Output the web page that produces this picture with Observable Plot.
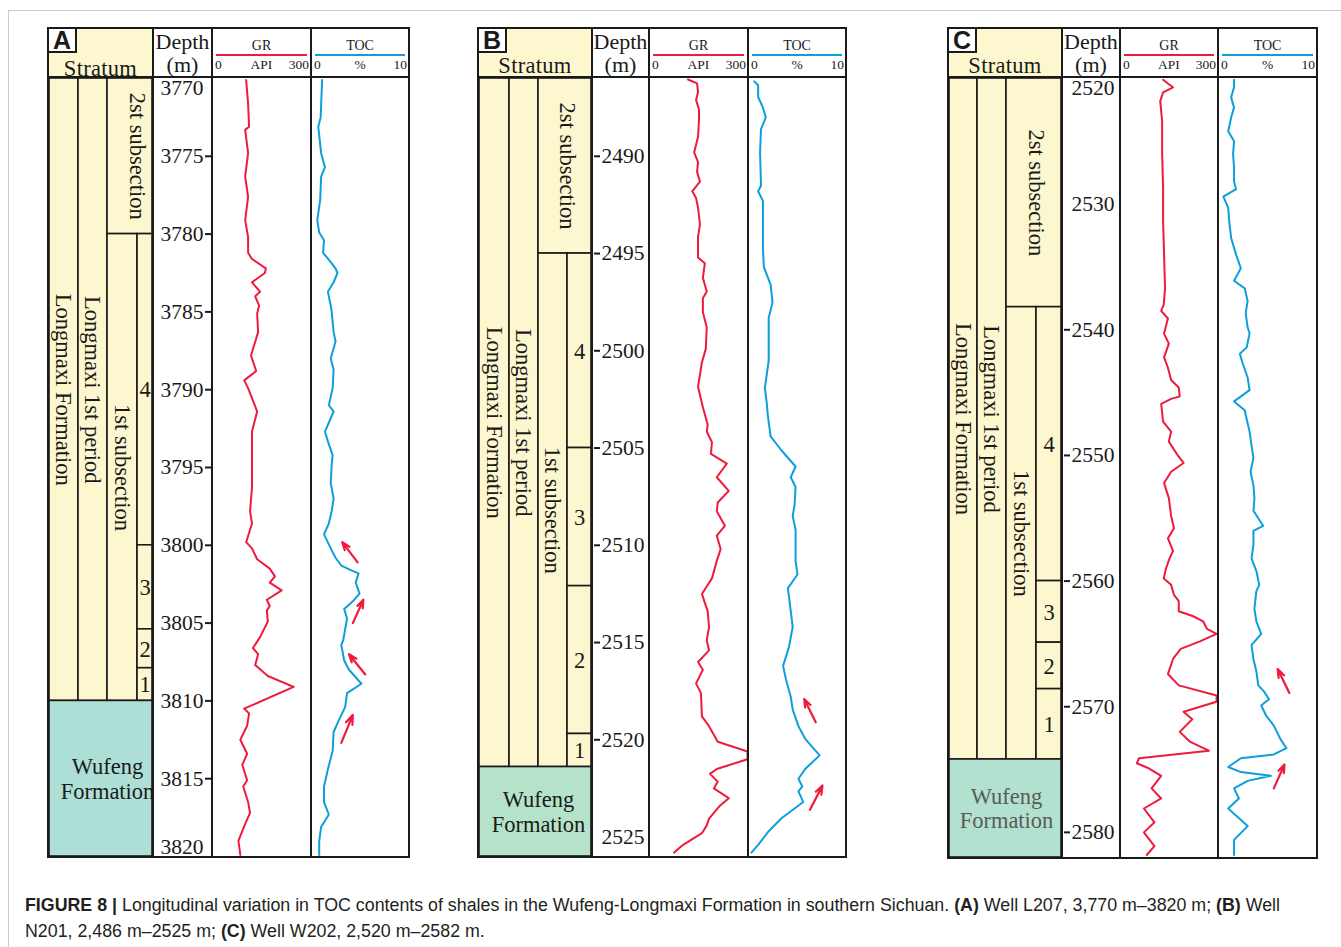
<!DOCTYPE html>
<html>
<head>
<meta charset="utf-8">
<script src="https://cdn.jsdelivr.net/npm/d3@7"></script>
<script src="https://cdn.jsdelivr.net/npm/@observablehq/plot@0.6"></script>
<style>
  html, body { margin: 0; padding: 0; background: #fff; }
  #page { position: relative; width: 1341px; height: 947px; overflow: hidden; color: #1a1a1a;
          font-family: "Liberation Serif", "Times New Roman", serif; }
  #frame { position: absolute; left: 8px; top: 10px; right: -2px; bottom: -2px;
           border-left: 1px solid #c9c9c9; border-top: 1px solid #c9c9c9; }
  .col { position: absolute; box-sizing: border-box; border: 2px solid #1a1a1a; background: #fff; }
  .hdr { position: absolute; left: 0; right: 0; top: 0; height: 49px; box-sizing: border-box;
         border-bottom: 2px solid #1a1a1a; }
  .body { position: absolute; left: 0; right: 0; top: 49px; }
  .body svg { display: block; }
  .t { position: absolute; line-height: 1; white-space: nowrap; }
  .tag { position: absolute; left: 0; top: 0; width: 28px; height: 24px; box-sizing: border-box;
         border-right: 2px solid #1a1a1a; border-bottom: 2px solid #1a1a1a; background: #fff;
         font: bold 25px "Liberation Sans", Arial, sans-serif; text-align: center; line-height: 23px; }
  .rule { position: absolute; height: 2px; }
  #caption { position: absolute; left: 25px; top: 892px; white-space: nowrap; transform-origin: 0 0;
             font-family: "Liberation Sans Narrow", "Arial Narrow", "Liberation Sans", Arial, sans-serif;
             font-size: 18px; line-height: 26px; color: #231f20; }
</style>
</head>
<body>
<div id="page">
  <div id="frame"></div>
  <div id="caption"><span id="cap1"><b>FIGURE 8 |</b> Longitudinal variation in TOC contents of shales in the Wufeng-Longmaxi Formation in southern Sichuan. <b>(A)</b> Well L207, 3,770 m–3820 m; <b>(B)</b> Well</span><br><span>N201, 2,486 m–2525 m; <b>(C)</b> Well W202, 2,520 m–2582 m.</span></div>
</div>
<script>
// Log scales shared by every well
const grScale = [0, 300];   // GR, API
const tocScale = [0, 10];   // TOC, %

// ---------- Well L207 (A) ----------
const depthRangeA = [3770, 3820];
const depthTicksA = [3775, 3780, 3785, 3790, 3795, 3800, 3805, 3810, 3815];
const depthPlainA = [3770, 3820];
// from/to: hierarchy rank (0 formation, 1 period, 2 subsection, 3 layer, 4 end)
const strataA = [
  {label: "Longmaxi Formation", from: 0, to: 1, top: 3770, base: 3810, vertical: true},
  {label: "Longmaxi 1st period", from: 1, to: 2, top: 3770, base: 3810, vertical: true},
  {label: "2st subsection", from: 2, to: 4, top: 3770, base: 3780, vertical: true},
  {label: "1st subsection", from: 2, to: 3, top: 3780, base: 3810, vertical: true},
  {label: "4", from: 3, to: 4, top: 3780, base: 3800},
  {label: "3", from: 3, to: 4, top: 3800, base: 3805.4},
  {label: "2", from: 3, to: 4, top: 3805.4, base: 3807.9},
  {label: "1", from: 3, to: 4, top: 3807.9, base: 3810},
  {label: "Wufeng\nFormation", from: 0, to: 4, top: 3810, base: 3820, wufeng: true}
];
// [depth m, GR API]
const grA = [[3770.1,101],[3771.6,107],[3773.1,110],[3773.3,98],[3774.8,107],[3776.3,98],[3777.6,107],[3779.1,98],
  [3780.2,107],[3781.2,107],[3781.6,119],[3782.2,162],[3782.5,159],[3783.1,119],[3783.7,144],[3784.0,129],[3784.6,141],
  [3785.1,135],[3786.3,138],[3787.8,116],[3788.8,132],[3789.4,95],[3789.9,107],[3791.4,135],[3792.7,119],[3794.8,119],
  [3796.3,119],[3797.8,113],[3798.6,119],[3799.8,101],[3800.2,119],[3800.9,135],[3801.5,174],[3802.0,190],[3802.4,174],
  [3802.9,211],[3803.5,165],[3803.9,174],[3804.2,165],[3804.9,168],[3805.9,144],[3806.6,122],[3807.0,138],[3807.7,129],
  [3808.4,168],[3809.1,248],[3810.5,95],[3810.8,110],[3811.6,104],[3812.5,83],[3813.4,104],[3814.1,89],[3815.1,104],
  [3815.5,92],[3816.5,107],[3817.2,113],[3817.9,98],[3819.0,77],[3819.9,83]];
// [depth m, TOC %]
const tocA = [[3770.1,1.0],[3772.5,0.85],[3773.1,0.6],[3774.8,0.9],[3775.7,1.3],[3776.3,0.9],[3777.8,0.8],[3779.1,0.5],
  [3779.9,0.7],[3780.4,1.2],[3781.2,1.1],[3781.8,1.9],[3782.2,2.4],[3782.5,2.6],[3783.1,2.2],[3783.7,1.6],[3784.6,1.9],
  [3785.0,2.0],[3786.3,2.2],[3786.9,2.4],[3788.0,1.9],[3788.7,2.2],[3789.9,2.1],[3791.0,1.7],[3791.4,2.2],[3792.7,1.3],
  [3793.5,1.7],[3794.2,2.1],[3794.8,2.0],[3796.0,1.9],[3797.0,2.2],[3797.8,2.0],[3798.6,1.7],[3799.3,1.2],[3800.2,1.9],
  [3800.8,2.4],[3801.3,3.0],[3801.6,4.0],[3801.8,4.8],[3802.4,4.5],[3803.1,4.9],[3803.6,4.2],[3804.1,3.3],[3804.7,3.6],
  [3806.1,3.2],[3806.4,3.0],[3807.4,3.3],[3808.0,3.8],[3808.9,5.1],[3809.5,3.6],[3810.4,3.4],[3811.3,2.7],[3812.0,2.2],
  [3813.2,2.1],[3814.4,1.6],[3815.5,1.2],[3816.5,1.2],[3817.3,1.7],[3818.1,0.9],[3819.0,0.7],[3819.9,0.7]];
// [tail TOC, tail depth, head TOC, head depth]
const arrowsA = [[4.7,3801.1,3.1,3799.8],[4.2,3805.0,5.3,3803.5],[5.5,3808.3,3.8,3807.0],[3.0,3812.7,4.2,3810.9]];

// ---------- Well N201 (B) ----------
const depthRangeB = [2486, 2526];
const depthTicksB = [2490, 2495, 2500, 2505, 2510, 2515, 2520];
const depthPlainB = [2525];
const strataB = [
  {label: "Longmaxi Formation", from: 0, to: 1, top: 2486, base: 2521.4, vertical: true},
  {label: "Longmaxi 1st period", from: 1, to: 2, top: 2486, base: 2521.4, vertical: true},
  {label: "2st subsection", from: 2, to: 4, top: 2486, base: 2495, vertical: true},
  {label: "1st subsection", from: 2, to: 3, top: 2495, base: 2521.4, vertical: true},
  {label: "4", from: 3, to: 4, top: 2495, base: 2505},
  {label: "3", from: 3, to: 4, top: 2505, base: 2512.1},
  {label: "2", from: 3, to: 4, top: 2512.1, base: 2519.7},
  {label: "1", from: 3, to: 4, top: 2519.7, base: 2521.4},
  {label: "Wufeng\nFormation", from: 0, to: 4, top: 2521.4, base: 2526, wufeng: true}
];
const grB = [[2486.05,116],[2486.25,144],[2486.7,147],[2487.1,141],[2487.6,150],[2488.1,150],[2489.0,147],[2489.8,135],
  [2490.3,147],[2490.8,144],[2491.3,153],[2491.8,129],[2492.15,141],[2492.65,147],[2493.5,153],[2494.15,147],[2495.2,147],
  [2495.5,168],[2496.25,162],[2496.95,174],[2497.3,162],[2498.0,162],[2498.8,174],[2499.9,171],[2500.6,159],[2501.85,147],
  [2502.9,162],[2503.8,177],[2504.15,174],[2504.7,190],[2505.3,187],[2505.8,236],[2506.5,205],[2507.2,242],[2507.8,208],
  [2508.25,205],[2509.0,230],[2509.5,205],[2510.2,217],[2510.8,205],[2511.7,190],[2512.5,159],[2513.4,177],[2514.2,181],
  [2514.9,174],[2515.4,181],[2516.0,147],[2516.4,162],[2517.1,141],[2517.6,156],[2518.8,159],[2519.3,181],[2520.1,208],
  [2520.6,300],[2521.0,300],[2521.5,205],[2521.75,184],[2522.15,208],[2522.5,196],[2523.0,242],[2523.4,214],[2524.05,181],
  [2524.4,174],[2524.8,159],[2525.4,101],[2525.8,73]];
const tocB = [[2486.15,0.5],[2486.35,0.9],[2486.95,0.9],[2487.5,1.4],[2488.0,1.7],[2488.6,1.2],[2489.8,1.1],[2491.5,1.2],
  [2491.8,0.9],[2492.3,1.4],[2493.15,1.4],[2494.8,1.4],[2495.7,1.5],[2496.6,2.2],[2497.5,2.4],[2498.3,2.0],[2499.1,2.0],
  [2500.5,2.0],[2501.9,1.6],[2502.7,1.8],[2503.3,1.9],[2504.4,2.2],[2505.1,3.3],[2505.95,4.8],[2506.5,4.3],[2507.0,4.8],
  [2507.9,4.7],[2508.5,4.5],[2509.2,4.8],[2510.15,4.8],[2510.8,4.8],[2511.5,5.0],[2512.2,4.0],[2513.0,4.2],[2514.2,4.5],
  [2515.25,4.1],[2516.2,3.5],[2516.9,3.8],[2517.8,4.3],[2518.45,4.5],[2519.3,5.1],[2519.95,5.8],[2520.8,7.3],[2521.5,5.8],
  [2522.0,5.1],[2522.4,5.5],[2522.65,5.1],[2523.2,5.6],[2524.05,3.3],[2524.7,2.0],[2525.4,0.9],[2525.8,0.2]];
const arrowsB = [[6.9,2519.1,5.7,2517.9],[6.3,2523.6,7.6,2522.35]];

// ---------- Well W202 (C) ----------
const depthRangeC = [2520, 2582];
const depthTicksC = [2540, 2550, 2560, 2570, 2580];
const depthPlainC = [2520, 2530];
const strataC = [
  {label: "Longmaxi Formation", from: 0, to: 1, top: 2520, base: 2574.2, vertical: true},
  {label: "Longmaxi 1st period", from: 1, to: 2, top: 2520, base: 2574.2, vertical: true},
  {label: "2st subsection", from: 2, to: 4, top: 2520, base: 2538.2, vertical: true},
  {label: "1st subsection", from: 2, to: 3, top: 2538.2, base: 2574.2, vertical: true},
  {label: "4", from: 3, to: 4, top: 2538.2, base: 2560},
  {label: "3", from: 3, to: 4, top: 2560, base: 2564.9},
  {label: "2", from: 3, to: 4, top: 2564.9, base: 2568.6},
  {label: "1", from: 3, to: 4, top: 2568.6, base: 2574.2},
  {label: "Wufeng\nFormation", from: 0, to: 4, top: 2574.2, base: 2582, wufeng: true}
];
const grC = [[2520.1,130],[2520.4,145],[2520.7,161],[2521.1,130],[2521.8,121],[2523.4,127],[2526.0,127],[2528.7,130],
  [2531.4,130],[2534.0,133],[2536.7,136],[2538.0,132],[2538.5,124],[2539.1,145],[2540.3,133],[2541.1,148],[2542.2,133],
  [2543.0,145],[2544.0,155],[2544.6,179],[2545.3,182],[2545.5,155],[2545.9,124],[2547.3,130],[2548.1,155],[2548.9,148],
  [2550.0,176],[2550.6,194],[2551.3,155],[2552.2,133],[2553.4,148],[2554.8,155],[2555.8,164],[2556.6,145],[2557.6,161],
  [2558.2,150],[2559.0,139],[2559.8,132],[2560.3,155],[2561.1,164],[2561.6,179],[2562.4,179],[2562.8,224],[2563.2,255],
  [2563.8,267],[2564.2,297],[2564.8,245],[2565.4,185],[2566.2,161],[2567.4,145],[2568.3,179],[2569.1,297],[2569.6,297],
  [2570.4,194],[2571.0,221],[2572.0,182],[2572.8,215],[2573.5,273],[2574.1,55],[2574.5,48],[2574.9,85],[2575.5,124],
  [2576.5,94],[2577.3,124],[2578.1,70],[2579.2,103],[2580.0,70],[2581.1,103],[2581.8,79]];
const tocC = [[2520.1,1.5],[2520.7,1.5],[2521.5,1.2],[2522.3,1.5],[2523.1,1.2],[2524.2,0.9],[2525.0,1.5],[2526.0,1.4],
  [2527.1,1.5],[2528.2,1.5],[2528.8,1.7],[2529.4,0.4],[2530.3,0.9],[2531.35,1.0],[2532.7,1.2],[2534.0,1.7],[2535.1,2.2],
  [2536.1,1.5],[2536.7,2.6],[2537.7,2.9],[2538.7,2.7],[2539.8,2.9],[2540.3,3.1],[2541.4,2.8],[2541.9,2.1],[2542.7,2.4],
  [2543.8,2.9],[2544.8,3.1],[2545.7,1.5],[2546.4,2.6],[2547.1,2.8],[2548.1,3.1],[2549.2,3.3],[2550.2,3.5],[2551.3,3.2],
  [2552.4,3.5],[2553.4,3.6],[2554.4,3.5],[2555.6,4.5],[2556.0,3.5],[2557.1,3.5],[2558.2,3.3],[2559.2,3.8],[2560.3,4.1],
  [2560.8,3.8],[2562.2,3.6],[2563.2,3.8],[2564.2,4.3],[2565.1,3.3],[2566.2,3.5],[2567.2,3.8],[2568.3,4.0],[2568.8,4.6],
  [2569.4,5.1],[2569.9,4.3],[2570.7,4.8],[2571.5,5.6],[2572.6,6.3],[2573.3,6.9],[2573.8,5.6],[2574.1,2.2],[2574.8,0.9],
  [2575.2,2.2],[2575.5,5.3],[2575.9,2.9],[2576.5,1.5],[2577.3,2.0],[2578.1,0.9],[2579.5,2.9],[2580.6,1.5],[2581.1,1.5],
  [2581.8,1.5]];
const arrowsC = [[7.2,2568.9,6.0,2567.0],[5.6,2576.5,6.7,2574.6]];

// ---------- drawing ----------
const SERIF = '"Liberation Serif", "Times New Roman", serif';
const SANS = '"Liberation Sans", Arial, sans-serif';
const RED = "#ee1b3d", BLUE = "#0d9fdc", INK = "#1a1a1a", LONGMAXI = "#fdf7cf";
const HEADER_H = 49;

const wells = [
  {tag: "A", range: depthRangeA, ticks: depthTicksA, plain: depthPlainA, strata: strataA, gr: grA, toc: tocA, arrows: arrowsA,
   box: {left: 48, top: 28, bottom: 857, cols: [105, 59, 99, 98], strataCols: [30, 29, 30, 16], tickSide: "right", stratumBaseline: 77},
   wufengFill: "#aedfd6", wufengInk: INK},
  {tag: "B", range: depthRangeB, ticks: depthTicksB, plain: depthPlainB, strata: strataB, gr: grB, toc: tocB, arrows: arrowsB,
   box: {left: 478, top: 28, bottom: 857, cols: [114, 57, 99, 98], strataCols: [31, 29, 29, 25], tickSide: "left", stratumBaseline: 73.5},
   wufengFill: "#b5e3c9", wufengInk: INK},
  {tag: "C", range: depthRangeC, ticks: depthTicksC, plain: depthPlainC, strata: strataC, gr: grC, toc: tocC, arrows: arrowsC,
   box: {left: 948, top: 28, bottom: 858, cols: [114, 58, 98, 99], strataCols: [29, 29, 30, 26], tickSide: "left", stratumBaseline: 73.5},
   wufengFill: "#b3e1cf", wufengInk: "#5a5a5a"}
];

function div(parent, cls, css = {}) {
  const d = document.createElement("div");
  if (cls) d.className = cls;
  Object.assign(d.style, css);
  parent.appendChild(d);
  return d;
}

// Places a line of text by its baseline inside a header cell
function label(parent, str, {baseline, size, anchor = "middle", inset = 0, family = SERIF, spacing = 0}) {
  const d = div(parent, "t");
  d.textContent = str;
  const asc = family === SERIF ? 0.8375 : 0.8465;
  Object.assign(d.style, {fontSize: size + "px", fontFamily: family, top: (baseline - asc * size) + "px",
    letterSpacing: spacing + "px"});
  if (anchor === "middle") Object.assign(d.style, {left: "0", right: "0", textAlign: "center"});
  else if (anchor === "start") d.style.left = inset + "px";
  else d.style.right = inset + "px";
}

function renderWell(well) {
  const page = document.getElementById("page");
  const L = well.box;
  const panelH = L.bottom - L.top;
  const bodyH = panelH - 2 - HEADER_H;
  const hb = abs => abs - L.top - 1;           // page y -> header-local y
  const plotStyle = {background: "transparent", overflow: "visible", fontFamily: SERIF, fontSize: "21.5px", color: INK};
  const yScale = {domain: well.range, reverse: true, axis: null};

  let x = L.left;
  const cells = L.cols.map(cw => {
    const col = div(page, "col", {left: (x - 1) + "px", top: (L.top - 1) + "px", width: (cw + 2) + "px", height: (panelH + 2) + "px"});
    const hdr = div(col, "hdr");
    const body = div(col, "body", {height: bodyH + "px"});
    x += cw;
    return {hdr, body, w: cw - 2};
  });

  // --- Stratum column ---
  const [sc, dc, gc, tc] = cells;
  sc.hdr.style.background = LONGMAXI;
  const tag = div(sc.hdr, "tag");
  tag.textContent = well.tag;
  label(sc.hdr, "Stratum", {baseline: hb(L.stratumBaseline), size: 22.5, spacing: 0.3});

  const edges = [0];
  L.strataCols.forEach(v => edges.push(edges[edges.length - 1] + v));
  const range = edges.map(e => Math.max(0, Math.min(sc.w, e - 1)));
  sc.body.appendChild(Plot.plot({
    width: sc.w, height: bodyH, margin: 0, style: plotStyle,
    x: {type: "linear", domain: [0, 1, 2, 3, 4], range, axis: null},
    y: yScale,
    marks: [
      Plot.rect(well.strata, {x1: "from", x2: "to", y1: "top", y2: "base",
        fill: d => d.wufeng ? well.wufengFill : LONGMAXI, stroke: INK, strokeWidth: 1.6}),
      Plot.text(well.strata, {x: d => (d.from + d.to) / 2, y: d => (d.top + d.base) / 2, text: "label",
        rotate: d => d.vertical ? 90 : 0, fontSize: 22.5, lineHeight: 1.08,
        fill: d => d.wufeng ? well.wufengInk : INK})
    ]
  }));

  // --- Depth column ---
  label(dc.hdr, "Depth", {baseline: hb(49), size: 22});
  label(dc.hdr, "(m)", {baseline: hb(72), size: 22});
  const tickRight = L.tickSide === "right";
  const [d0, d1] = well.range;
  const plainGroups = [
    [well.plain.filter(v => v === d0), 10],
    [well.plain.filter(v => v === d1), -9],
    [well.plain.filter(v => v !== d0 && v !== d1), 0]
  ];
  dc.body.appendChild(Plot.plot({
    width: dc.w, height: bodyH, marginTop: 0, marginBottom: 0,
    marginLeft: tickRight ? dc.w : 0, marginRight: tickRight ? 0 : dc.w,
    style: plotStyle,
    y: {domain: well.range, reverse: true},
    marks: [
      Plot.axisY(well.ticks, {anchor: tickRight ? "left" : "right", tickSize: 6, tickPadding: 2, strokeWidth: 2,
        tickFormat: d => String(d), label: null, fontSize: 21.5}),
      ...plainGroups.map(([vals, dy]) => Plot.text(vals, {y: v => v, text: v => String(v),
        frameAnchor: tickRight ? "right" : "left", textAnchor: tickRight ? "end" : "start",
        dx: tickRight ? -8 : 8, dy, fontSize: 21.5}))
    ]
  }));

  // --- GR and TOC tracks ---
  const trackHeader = (cell, title, unit, lo, hi, color) => {
    label(cell.hdr, title, {baseline: hb(50.5), size: 14});
    div(cell.hdr, "rule", {left: "3px", right: "3px", top: (hb(54.8) - 1) + "px", background: color});
    label(cell.hdr, lo, {baseline: hb(69), size: 13.5, anchor: "start", inset: 2});
    label(cell.hdr, unit, {baseline: hb(69), size: 13.5});
    label(cell.hdr, hi, {baseline: hb(69), size: 13.5, anchor: "end", inset: 1});
  };
  trackHeader(gc, "GR", "API", String(grScale[0]), String(grScale[1]), RED);
  trackHeader(tc, "TOC", "%", String(tocScale[0]), String(tocScale[1]), BLUE);

  gc.body.appendChild(Plot.plot({
    width: gc.w, height: bodyH, margin: 0, style: plotStyle,
    x: {domain: grScale, axis: null}, y: yScale,
    marks: [Plot.line(well.gr, {x: d => d[1], y: d => d[0], stroke: RED, strokeWidth: 2})]
  }));

  tc.body.appendChild(Plot.plot({
    width: tc.w, height: bodyH, margin: 0, style: plotStyle,
    x: {domain: tocScale, axis: null}, y: yScale,
    marks: [
      Plot.line(well.toc, {x: d => d[1], y: d => d[0], stroke: BLUE, strokeWidth: 2}),
      Plot.arrow(well.arrows, {x1: d => d[0], y1: d => d[1], x2: d => d[2], y2: d => d[3],
        stroke: RED, strokeWidth: 2.2, headLength: 9, headAngle: 40})
    ]
  }));
}

wells.forEach(renderWell);

// Fit the caption's first line to the figure width
const cap = document.getElementById("caption");
const w1 = document.getElementById("cap1").getBoundingClientRect().width;
if (w1 > 0) cap.style.transform = `scaleX(${1255 / w1})`;
</script>
</body>
</html>
